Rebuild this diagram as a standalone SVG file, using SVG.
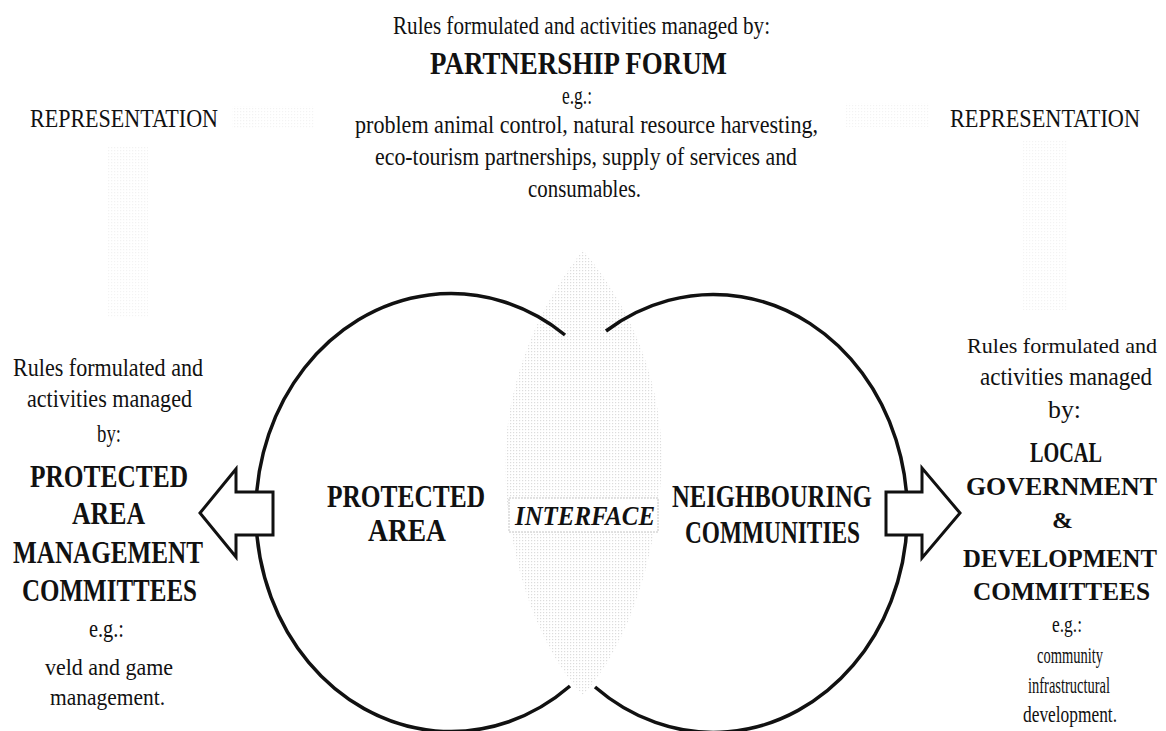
<svg xmlns="http://www.w3.org/2000/svg" width="1166" height="731" viewBox="0 0 1166 731">
  <style>
    text { font-family: "Liberation Serif", "Times New Roman", serif; fill: #111; }
    .t { font-size: 25px; }
    .s { font-size: 24px; }
    .tn { font-size: 22px; }
    .b { font-size: 31px; font-weight: bold; }
    .br { font-size: 29px; font-weight: bold; }
    .bn { font-size: 25px; font-weight: bold; }
    .bi { font-size: 27px; font-weight: bold; font-style: italic; }
    .ring { fill: none; stroke: #111; stroke-width: 3.5; }
    .arrow { fill: #fff; stroke: #111; stroke-width: 3; stroke-linejoin: miter; }
  </style>
  <defs>
    <pattern id="halftone" width="3" height="3" patternUnits="userSpaceOnUse">
      <rect x="0" y="0" width="1.2" height="1.2" fill="#9a9a9a"/>
    </pattern>
  </defs>
  <rect width="1166" height="731" fill="#fff"/>

  <!-- faint grey representation bands -->
  <g id="representation-shading" fill="url(#halftone)" opacity="0.12">
    <rect x="232" y="106" width="82" height="22"/>
    <rect x="108" y="146" width="40" height="172"/>
    <rect x="846" y="103" width="84" height="24"/>
    <rect x="1022" y="140" width="46" height="170"/>
  </g>

  <!-- shaded interface lens between the two areas -->
  <g id="interface-zone">
    <path d="M583,250 C650,330 668,420 660,490 C652,570 625,650 583,695 C540,650 512,570 506,490 C500,420 520,330 583,250 Z" fill="url(#halftone)" opacity="0.35"/>
  </g>

  <!-- area outlines and arrows -->
  <g id="connectors">
    <path class="ring" d="M565,335 A195,219 0 1 0 570,686"/>
    <path class="ring" d="M606,331 A194,219 0 1 1 595,687"/>
    <polygon class="arrow" points="200,513 236,469 236,492 273,492 273,535 236,535 236,557"/>
    <polygon class="arrow" points="960,513 922,468 922,492 886,492 886,535 922,535 922,558"/>
  </g>

  <g id="partnership-forum">
    <text class="t" x="393" y="34" textLength="377" lengthAdjust="spacingAndGlyphs">Rules formulated and activities managed by:</text>
    <text class="b" x="430" y="74" textLength="297" lengthAdjust="spacingAndGlyphs">PARTNERSHIP FORUM</text>
    <text class="t" x="562" y="104" textLength="30" lengthAdjust="spacingAndGlyphs">e.g.:</text>
    <text class="t" x="355" y="133" textLength="463" lengthAdjust="spacingAndGlyphs">problem animal control, natural resource harvesting,</text>
    <text class="t" x="375" y="165" textLength="422" lengthAdjust="spacingAndGlyphs">eco-tourism partnerships, supply of services and</text>
    <text class="t" x="528" y="197" textLength="113" lengthAdjust="spacingAndGlyphs">consumables.</text>
  </g>

  <g id="representation-left">
    <text class="t" x="30" y="127" textLength="188" lengthAdjust="spacingAndGlyphs">REPRESENTATION</text>
  </g>
  <g id="representation-right">
    <text class="t" x="950" y="127" textLength="190" lengthAdjust="spacingAndGlyphs">REPRESENTATION</text>
  </g>

  <g id="protected-area">
    <text class="b" x="327" y="507" textLength="158" lengthAdjust="spacingAndGlyphs">PROTECTED</text>
    <text class="b" x="368" y="541" textLength="78" lengthAdjust="spacingAndGlyphs">AREA</text>
  </g>

  <g id="interface">
    <rect x="509" y="498" width="149" height="34" fill="#fff" stroke="#c4c4c4" stroke-width="1" stroke-dasharray="2 1"/>
    <text class="bi" x="515" y="525" textLength="140" lengthAdjust="spacingAndGlyphs">INTERFACE</text>
  </g>

  <g id="neighbouring-communities">
    <text class="b" x="672" y="507" textLength="200" lengthAdjust="spacingAndGlyphs">NEIGHBOURING</text>
    <text class="b" x="685" y="543" textLength="175" lengthAdjust="spacingAndGlyphs">COMMUNITIES</text>
  </g>

  <g id="pa-committees">
    <text class="t" x="13" y="376" textLength="190" lengthAdjust="spacingAndGlyphs">Rules formulated and</text>
    <text class="t" x="27" y="407" textLength="165" lengthAdjust="spacingAndGlyphs">activities managed</text>
    <text class="t" x="97" y="442" textLength="24" lengthAdjust="spacingAndGlyphs">by:</text>
    <text class="b" x="30" y="487" textLength="158" lengthAdjust="spacingAndGlyphs">PROTECTED</text>
    <text class="b" x="72" y="524" textLength="73" lengthAdjust="spacingAndGlyphs">AREA</text>
    <text class="b" x="13" y="563" textLength="190" lengthAdjust="spacingAndGlyphs">MANAGEMENT</text>
    <text class="b" x="22" y="601" textLength="175" lengthAdjust="spacingAndGlyphs">COMMITTEES</text>
    <text class="t" x="89" y="637" textLength="35" lengthAdjust="spacingAndGlyphs">e.g.:</text>
    <text class="s" x="45" y="675" textLength="128" lengthAdjust="spacingAndGlyphs">veld and game</text>
    <text class="s" x="50" y="705" textLength="115" lengthAdjust="spacingAndGlyphs">management.</text>
  </g>

  <g id="local-government">
    <text class="tn" x="967" y="353" textLength="190" lengthAdjust="spacingAndGlyphs">Rules formulated and</text>
    <text class="t" x="980" y="385" textLength="172" lengthAdjust="spacingAndGlyphs">activities managed</text>
    <text class="t" x="1048" y="418" textLength="33" lengthAdjust="spacingAndGlyphs">by:</text>
    <text class="br" x="1030" y="462" textLength="72" lengthAdjust="spacingAndGlyphs">LOCAL</text>
    <text class="bn" x="966" y="495" textLength="191" lengthAdjust="spacingAndGlyphs">GOVERNMENT</text>
    <text class="s" x="1052" y="528" textLength="21" lengthAdjust="spacingAndGlyphs" font-weight="bold">&amp;</text>
    <text class="bn" x="963" y="567" textLength="194" lengthAdjust="spacingAndGlyphs">DEVELOPMENT</text>
    <text class="bn" x="973" y="600" textLength="177" lengthAdjust="spacingAndGlyphs">COMMITTEES</text>
    <text class="s" x="1052" y="632" textLength="30" lengthAdjust="spacingAndGlyphs">e.g.:</text>
    <text class="s" x="1037" y="663" textLength="66" lengthAdjust="spacingAndGlyphs">community</text>
    <text class="s" x="1028" y="693" textLength="82" lengthAdjust="spacingAndGlyphs">infrastructural</text>
    <text class="s" x="1023" y="722" textLength="94" lengthAdjust="spacingAndGlyphs">development.</text>
  </g>
</svg>
